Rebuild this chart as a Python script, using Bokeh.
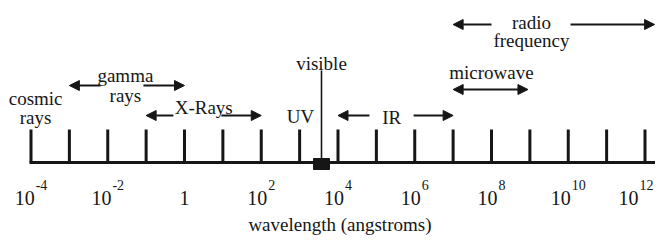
from bokeh.plotting import figure
from bokeh.models import Range1d, ColumnDataSource, Arrow, NormalHead
from bokeh.core.properties import value
from bokeh.embed import file_html
from bokeh.resources import INLINE

# ---- data (log10 of wavelength in angstroms) ----
decades = list(range(-4, 13))                 # tick marks
label_decades = [-4, -2, 0, 2, 4, 6, 8, 10, 12]  # labelled ticks

band_names = ["gamma rays", "X-Rays", "IR", "radio frequency"]
band_lo = [-3.0, -1.0, 4.0, 7.0]
band_hi = [0.0, 2.0, 7.0, 12.25]
band_tail_lo = [-2.19, -0.29, 4.82, 8.0]
band_tail_hi = [-1.07, 0.96, 5.97, 10.06]

micro_lo = [7.0]
micro_hi = [8.95]

visible_pos = [3.57]

label_text = ["cosmic", "rays", "gamma", "rays", "X-Rays", "UV", "visible",
              "IR", "microwave", "radio", "frequency"]
label_logx = [-3.88, -3.88, -1.54, -1.54, 0.5, 3.02, 3.57, 5.4, 8.0, 9.04, 9.04]

# ---- layout (pixel y from the top; frame is flipped so y grows downward) ----
TXT_SHIFT = -5   # compensates the renderer's baseline placement
label_y = [103, 122, 80, 100, 112, 121, 68, 122, 77, 27, 45]
band_arrow_y = [85, 115, 115, 24]
micro_arrow_y = [89]
AXIS_Y = 162
TICK_TOP = 129
X_LEFT, X_RIGHT = -4.7948, 12.2736
WIDTH = 655
INK = "#161616"
FONT = value("Liberation Serif")

p = figure(width=WIDTH, height=236, output_backend="svg", toolbar_location=None,
           x_range=Range1d(X_LEFT, X_RIGHT), y_range=Range1d(236, 0),
           x_axis_type=None, y_axis_type=None, min_border=0)
p.grid.visible = False
p.outline_line_color = None
p.background_fill_color = "white"

# axis line
p.segment(x0=[decades[0]], y0=[AXIS_Y], x1=[X_RIGHT], y1=[AXIS_Y],
          line_color=INK, line_width=3, line_cap="square")
# ticks
p.segment(x0=decades, y0=[TICK_TOP] * len(decades), x1=decades,
          y1=[AXIS_Y] * len(decades), line_color=INK, line_width=3)

# visible marker
p.segment(x0=visible_pos, y0=[70], x1=visible_pos, y1=[AXIS_Y],
          line_color=INK, line_width=1.6)
p.rect(x=visible_pos, y=[163.5], width=16, height=11,
       width_units="screen", height_units="screen",
       fill_color=INK, line_color=INK)

# tick labels 10^n
px_per_dec = WIDTH / (X_RIGHT - X_LEFT)
BASE_W = 20
EXP_CHAR = 7
xs10, off10, xse, offe, exps = [], [], [], [], []
ones = []
for d in label_decades:
    if d == 0:
        ones.append(d)
        continue
    e = str(d)
    we = sum(4.6 if c == "-" else EXP_CHAR for c in e)
    W = BASE_W + 1 + we
    left = -W / 2
    right_px = (d - X_LEFT) * px_per_dec + left + W
    if right_px > WIDTH - 2:          # keep the last label inside the frame
        left -= right_px - (WIDTH - 2)
    xs10.append(d); off10.append(left)
    xse.append(d); offe.append(left + BASE_W + 1); exps.append(e)

p.text(x=xs10, y=[202 + TXT_SHIFT] * len(xs10), text=["10"] * len(xs10), x_offset=off10,
       text_align="left", text_baseline="alphabetic", text_font=FONT,
       text_font_size=value("20px"), text_color=INK)
p.text(x=xse, y=[189 + TXT_SHIFT] * len(xse), text=exps, x_offset=offe,
       text_align="left", text_baseline="alphabetic", text_font=FONT,
       text_font_size=value("14px"), text_color=INK)
p.text(x=ones, y=[202 + TXT_SHIFT] * len(ones), text=["1"] * len(ones),
       text_align="center", text_baseline="alphabetic", text_font=FONT,
       text_font_size=value("20px"), text_color=INK)

# axis title
p.text(x=[(decades[0] + decades[-1]) / 2 + 0.05], y=[229 + TXT_SHIFT],
       text=["wavelength (angstroms)"],
       text_align="center", text_baseline="alphabetic", text_font=FONT,
       text_font_size=value("19px"), text_color=INK)

# region labels
p.text(x=label_logx, y=[v + TXT_SHIFT for v in label_y], text=label_text,
       text_align="center", text_baseline="alphabetic", text_font=FONT,
       text_font_size=value("19px"), text_color=INK)

# split arrows
src_l = ColumnDataSource(dict(x0=band_tail_lo, x1=band_lo, y=band_arrow_y))
src_r = ColumnDataSource(dict(x0=band_tail_hi, x1=band_hi, y=band_arrow_y))
for src in (src_l, src_r):
    p.add_layout(Arrow(end=NormalHead(size=10, fill_color=INK, line_color=INK, line_width=1),
                       x_start="x0", y_start="y", x_end="x1", y_end="y",
                       source=src, line_color=INK, line_width=2.2))
# microwave double arrow
src_m = ColumnDataSource(dict(x0=micro_lo, x1=micro_hi, y=micro_arrow_y))
p.add_layout(Arrow(start=NormalHead(size=10, fill_color=INK, line_color=INK, line_width=1),
                   end=NormalHead(size=10, fill_color=INK, line_color=INK, line_width=1),
                   x_start="x0", y_start="y", x_end="x1", y_end="y",
                   source=src_m, line_color=INK, line_width=2.2))

open("out.html", "w").write(file_html(p, INLINE))
